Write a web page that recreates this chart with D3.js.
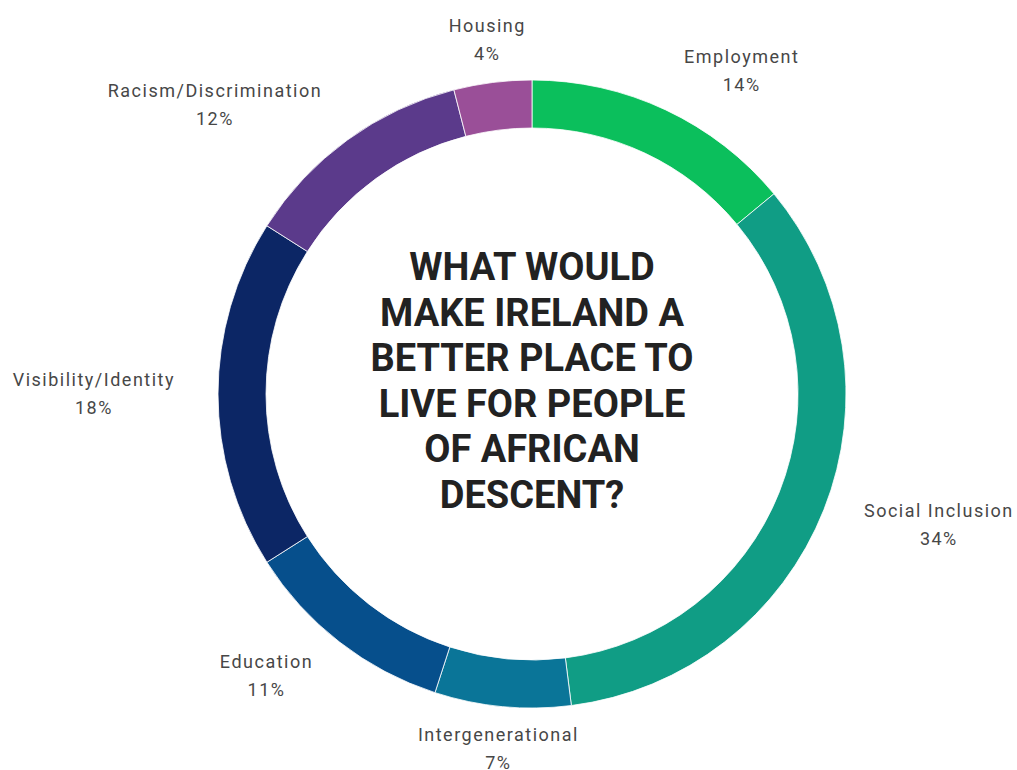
<!DOCTYPE html>
<html>
<head>
<meta charset="utf-8">
<script src="https://cdn.jsdelivr.net/npm/d3@7"></script>
<style>
  html, body { margin: 0; padding: 0; background: #fff; }
  svg { display: block; }
</style>
</head>
<body>
<div id="chart"></div>
<script>
// Data (clockwise from 12 o'clock)
const categories = ['Employment', 'Social Inclusion', 'Intergenerational', 'Education',
  'Visibility/Identity', 'Racism/Discrimination', 'Housing'];
const shares = [14, 34, 7, 11, 18, 12, 4];
const sliceColors = ['#0bbf5c', '#109d85', '#0a7598', '#064f8c', '#0c2665', '#5b3a8b', '#9a4f98'];
const titleLines = ['WHAT WOULD', 'MAKE IRELAND A', 'BETTER PLACE TO', 'LIVE FOR PEOPLE', 'OF AFRICAN', 'DESCENT?'];

const width = 1017, height = 770;
const cx = 532, cy = 394;
const outerR = 314, innerR = 266;
const labelR = 357;

const svg = d3.select('#chart')
  .append('svg')
  .attr('width', width)
  .attr('height', height)
  .attr('viewBox', `0 0 ${width} ${height}`);

const g = svg.append('g').attr('transform', `translate(${cx},${cy})`);

const data = categories.map((c, i) => ({ name: c, value: shares[i], color: sliceColors[i] }));

const pie = d3.pie().value(d => d.value).sort(null);
const arc = d3.arc().innerRadius(innerR).outerRadius(outerR);
const arcs = pie(data);

// Ring slices
g.selectAll('path.slice')
  .data(arcs)
  .join('path')
  .attr('class', 'slice')
  .attr('d', arc)
  .attr('fill', d => d.data.color)
  .attr('stroke', '#fff')
  .attr('stroke-width', 0.8);

// Outside labels: point on the label radius, then shift sideways by half the
// text width when the slice sits on the left or right side
const label = g.selectAll('g.label')
  .data(arcs)
  .join('g')
  .attr('class', 'label');

label.append('text')
  .attr('text-anchor', 'middle')
  .attr('font-family', 'Roboto, sans-serif')
  .attr('font-size', '18px')
  .attr('letter-spacing', '1.5px')
  .attr('fill', '#474747')
  .each(function(d) {
    const t = d3.select(this);
    t.append('tspan').attr('x', 0).attr('y', -8).text(d.data.name);
    t.append('tspan').attr('x', 0).attr('y', 20).text(`${d.data.value}%`);
  });

label.attr('transform', function(d) {
  const a = (d.startAngle + d.endAngle) / 2;
  const s = Math.sin(a), c = Math.cos(a);
  const w = this.getBBox().width;
  let dx = 0;
  if (Math.abs(s) > 0.3) dx = Math.sign(s) * w / 2;
  const x = labelR * s + dx;
  const y = -labelR * c;
  return `translate(${x},${y})`;
});

// Centre title
const title = g.append('text')
  .attr('text-anchor', 'middle')
  .attr('font-family', 'Roboto, sans-serif')
  .attr('font-weight', 'bold')
  .attr('font-size', '38px')
  .attr('fill', '#222');

const lineH = 45.5;
titleLines.forEach((line, i) => {
  title.append('tspan')
    .attr('x', 0)
    .attr('y', 280 - cy + i * lineH)
    .text(line);
});
</script>
</body>
</html>
